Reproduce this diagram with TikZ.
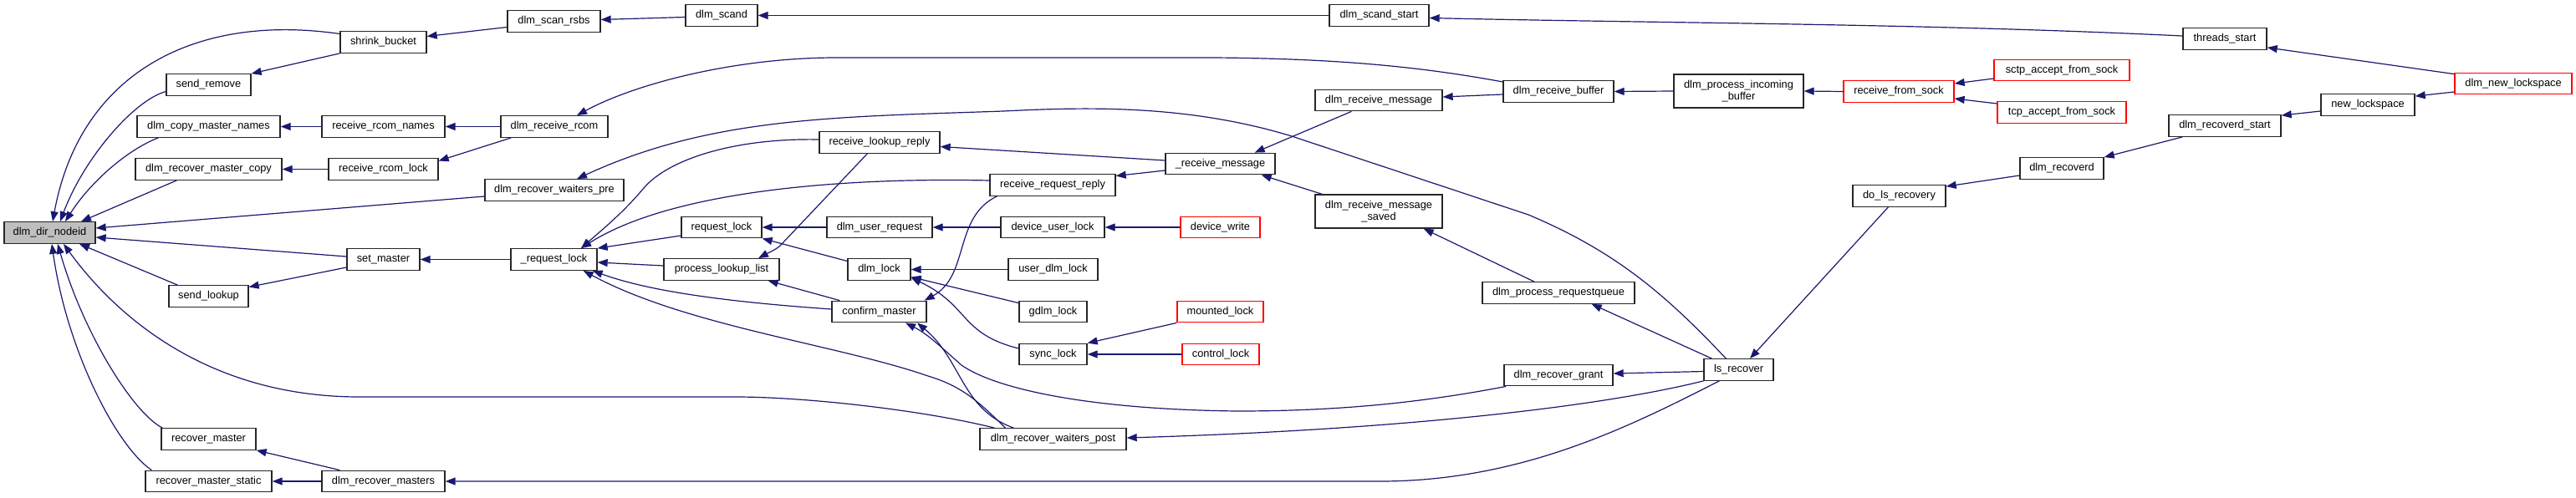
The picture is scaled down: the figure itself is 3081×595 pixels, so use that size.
\documentclass[tikz,border=0pt]{standalone}
\usepackage{fontspec}
\setmainfont{Liberation Sans}
\usetikzlibrary{arrows.meta,calc}
\definecolor{navy}{HTML}{191970}
\definecolor{rootgray}{HTML}{BFBFBF}
\begin{document}
\begin{tikzpicture}[x=1pt,y=-1pt,
  box/.style={draw=black!85, line width=1.3pt, fill=white, minimum height=25.5pt, inner sep=0pt, align=center, font=\fontsize{12.8}{14.5}\selectfont, text=black},
  redbox/.style={box, draw=red},
  conn/.style={draw=navy, line width=1.2pt, -{Triangle[length=12pt,width=9pt]}}]
\useasboundingbox (0,0) rectangle (3081,595);
% nodes
\node[box,fill=rootgray,minimum width=109pt] (root) at (59.5,278.5) {dlm\_dir\_nodeid};
\node[box,minimum width=103pt] (shrink) at (458.5,50.5) {shrink\_bucket};
\node[box,minimum width=101pt] (sremove) at (249.5,101.5) {send\_remove};
\node[box,minimum width=171pt] (copynames) at (249.5,151.5) {dlm\_copy\_master\_names};
\node[box,minimum width=147pt] (rcnames) at (458.5,151.5) {receive\_rcom\_names};
\node[box,minimum width=175pt] (rmcopy) at (249.5,202.5) {dlm\_recover\_master\_copy};
\node[box,minimum width=131pt] (rclock) at (458.5,202.5) {receive\_rcom\_lock};
\node[box,minimum width=87pt] (setm) at (458.5,310.5) {set\_master};
\node[box,minimum width=95pt] (slookup) at (249.5,354.5) {send\_lookup};
\node[box,minimum width=113pt] (rmaster) at (249.5,525.5) {recover\_master};
\node[box,minimum width=151pt] (rmstatic) at (249.5,576) {recover\_master\_static};
\node[box,minimum width=147pt] (rmasters) at (458.5,576) {dlm\_recover\_masters};
\node[box,minimum width=111pt] (scanrsbs) at (662.5,25.5) {dlm\_scan\_rsbs};
\node[box,minimum width=86pt] (scand) at (863,18.5) {dlm\_scand};
\node[box,minimum width=128pt] (rcvrcom) at (663,151.5) {dlm\_receive\_rcom};
\node[box,minimum width=166pt] (wpre) at (663,227.5) {dlm\_recover\_waiters\_pre};
\node[box,minimum width=144pt] (rlreply) at (1052,170.5) {receive\_lookup\_reply};
\node[box,minimum width=96pt] (reqlock) at (863,272) {request\_lock};
\node[box,minimum width=126pt] (userreq) at (1052,272) {dlm\_user\_request};
\node[box,minimum width=103pt] (reql) at (662.5,310.5) {\_request\_lock};
\node[box,minimum width=138pt] (plist) at (863,322.5) {process\_lookup\_list};
\node[box,minimum width=75pt] (dlmlock) at (1051.5,322.5) {dlm\_lock};
\node[box,minimum width=113pt] (confirm) at (1051.5,373) {confirm\_master};
\node[box,minimum width=131pt] (rmsg) at (1459.5,196) {\_receive\_message};
\node[box,minimum width=150pt] (rrreply) at (1259,221.5) {receive\_request\_reply};
\node[box,minimum width=124pt] (dulock) at (1259,272) {device\_user\_lock};
\node[redbox,minimum width=95pt] (dwrite) at (1459.5,272) {device\_write};
\node[box,minimum width=107pt] (udlock) at (1259.5,322.5) {user\_dlm\_lock};
\node[box,minimum width=81pt] (gdlock) at (1259.5,373) {gdlm\_lock};
\node[box,minimum width=81pt] (synclock) at (1259.5,424) {sync\_lock};
\node[redbox,minimum width=103pt] (mlock) at (1459.5,373) {mounted\_lock};
\node[redbox,minimum width=92pt] (clock) at (1460,424) {control\_lock};
\node[box,minimum width=175pt] (wpost) at (1259.5,525.5) {dlm\_recover\_waiters\_post};
\node[box,minimum width=119pt] (scandstart) at (1649.5,18.5) {dlm\_scand\_start};
\node[box,minimum width=132pt] (rbuf) at (1864,109.5) {dlm\_receive\_buffer};
\node[box,minimum width=152pt] (rcvmsg) at (1649,120) {dlm\_receive\_message};
\node[box,minimum width=152pt,minimum height=40pt] (rcvsaved) at (1649,253) {dlm\_receive\_message\\\_saved};
\node[box,minimum width=155pt,minimum height=40pt] (pinbuf) at (2079.5,109) {dlm\_process\_incoming\\\_buffer};
\node[box,minimum width=182pt] (preq) at (1864,350.5) {dlm\_process\_requestqueue};
\node[box,minimum width=130pt] (rgrant) at (1864,449) {dlm\_recover\_grant};
\node[box,minimum width=83pt] (lsrec) at (2079.5,442.5) {ls\_recover};
\node[redbox,minimum width=132pt] (rfsock) at (2271,109.5) {receive\_from\_sock};
\node[redbox,minimum width=162pt] (sctp) at (2466,84) {sctp\_accept\_from\_sock};
\node[redbox,minimum width=154pt] (tcp) at (2466,134.5) {tcp\_accept\_from\_sock};
\node[box,minimum width=100pt] (recoverd) at (2466,201.5) {dlm\_recoverd};
\node[box,minimum width=111pt] (dolsrec) at (2271.5,234.5) {do\_ls\_recovery};
\node[box,minimum width=100pt] (threads) at (2661,46.5) {threads\_start};
\node[redbox,minimum width=140pt] (newls) at (3006,100) {dlm\_new\_lockspace};
\node[box,minimum width=112pt] (newlsp) at (2832,125.5) {new\_lockspace};
\node[box,minimum width=134pt] (rdstart) at (2661,150.5) {dlm\_recoverd\_start};
% edges into root
\draw[conn] ($(shrink.west)+(0,-10)$) .. controls (230,15) and (95,90) .. ($(root.north)+(3.5,0)$);
\draw[conn] ($(sremove.west)+(0,8)$) .. controls (160,120) and (100,190) .. ($(root.north)+(12.5,0)$);
\draw[conn] ($(copynames.south west)+(26,0)$) .. controls (155,178) and (110,215) .. ($(root.north)+(18.5,0)$);
\draw[conn] ($(rmcopy.south west)+(50,0)$) -- ($(root.north)+(37.5,0)$);
\draw[conn] ($(wpre.west)+(0,7.5)$) -- ($(root.east)+(0,-5.5)$);
\draw[conn] ($(setm.west)+(0,-3.5)$) -- ($(root.east)+(0,5.5)$);
\draw[conn] ($(slookup.north west)+(11,0)$) -- ($(root.south)+(35.5,0)$);
\draw[conn] ($(wpost.north west)+(18,0)$) .. controls (1100,490) and (960,475) .. (880,475) -- (430,475) .. controls (250,475) and (140,380) .. ($(root.south)+(16.5,0)$);
\draw[conn] ($(rmaster.north west)+(2,0)$) .. controls (160,495) and (100,400) .. ($(root.south)+(9.5,0)$);
\draw[conn] ($(rmstatic.north west)+(8,0)$) .. controls (140,535) and (80,420) .. ($(root.south)+(2.5,0)$);
% second level
\draw[conn] (shrink.south west) -- (sremove.north east);
\draw[conn] ($(scanrsbs.west)+(0,7)$) -- ($(shrink.east)+(0,-7)$);
\draw[conn] ($(scand.west)+(0,2)$) -- ($(scanrsbs.east)+(0,-2)$);
\draw[conn] (scandstart.west) -- (scand.east);
\draw[conn] ($(threads.west)+(0,-3.5)$) .. controls (2300,28) and (2000,28) .. ($(scandstart.east)+(0,3)$);
\draw[conn] ($(newls.north west)+(0,2)$) -- ($(threads.south east)+(0,-3)$);
\draw[conn] (rcnames.west) -- (copynames.east);
\draw[conn] (rcvrcom.west) -- (rcnames.east);
\draw[conn] (rclock.west) -- (rmcopy.east);
\draw[conn] ($(rcvrcom.south west)+(13,0)$) -- ($(rclock.east)+(0,-10)$);
\draw[conn] ($(rbuf.west)+(0,-11.5)$) .. controls (1700,80) and (1600,70) .. (1450,69) -- (1000,69) .. controls (880,69) and (760,100) .. ($(rcvrcom.north)+(27,0)$);
\draw[conn] (pinbuf.west) -- (rbuf.east);
\draw[conn] (rfsock.west) -- (pinbuf.east);
\draw[conn] ($(sctp.west)+(0,10)$) -- ($(rfsock.east)+(0,-9.5)$);
\draw[conn] ($(tcp.west)+(0,-10.5)$) -- ($(rfsock.east)+(0,8.5)$);
\draw[conn] ($(lsrec.north west)+(27,0)$) .. controls (1990,350) and (1930,300) .. (1828,257) -- (1545,163) .. controls (1420,125) and (1300,128) .. (1200,133) .. controls (1000,140) and (850,140) .. ($(wpre.north)+(27,0)$);
\draw[conn] ($(setm.west)+(0,9.5)$) -- ($(slookup.east)+(0,-11)$);
\draw[conn] (reql.west) -- (setm.east);
\draw[conn] ($(reqlock.west)+(0,10)$) -- (reql.north east);
\draw[conn] ($(plist.west)+(0,-4.5)$) -- ($(reql.east)+(0,3.5)$);
\draw[conn] ($(confirm.west)+(0,-3)$) .. controls (880,362) and (780,350) .. ($(reql.south east)+(-6,0)$);
\draw[conn] ($(wpost.north west)+(31,0)$) .. controls (1170,480) and (1150,462) .. (1110,450) .. controls (1000,412) and (820,390) .. ($(reql.south east)+(-17,0)$);
\draw[conn] ($(rlreply.west)+(0,-3.5)$) .. controls (880,165) and (800,190) .. (770,225) .. controls (745,255) and (720,275) .. ($(reql.north)+(32.5,0)$);
\draw[conn] ($(rrreply.west)+(0,-5.5)$) .. controls (1000,212) and (800,230) .. ($(reql.north)+(32.5,0)$);
\draw[conn] (userreq.west) -- (reqlock.east);
\draw[conn] ($(dlmlock.west)+(0,-10)$) -- (reqlock.south east);
\draw[conn] ($(rlreply.south west)+(58,0)$) -- (935,292) .. controls (930,298) and (920,302) .. ($(plist.north)+(44,0)$);
\draw[conn] ($(confirm.north west)+(10,0)$) -- ($(plist.south east)+(-14,0)$);
\draw[conn] ($(rrreply.south west)+(9,0)$) .. controls (1140,260) and (1160,330) .. ($(confirm.north east)+(-3,0)$);
\draw[conn] ($(rgrant.south west)+(3,0)$) .. controls (1700,482) and (1600,492) .. (1480,492) .. controls (1300,490) and (1190,465) .. (1150,437) .. controls (1125,415) and (1110,400) .. ($(confirm.south)+(31.5,0)$);
\draw[conn] ($(wpost.north west)+(41,0)$) .. controls (1150,490) and (1150,430) .. ($(confirm.south)+(45.5,0)$);
\draw[conn] (dulock.west) -- (userreq.east);
\draw[conn] (dwrite.west) -- (dulock.east);
\draw[conn] (udlock.west) -- (dlmlock.east);
\draw[conn] ($(gdlock.north west)+(0,3)$) -- ($(dlmlock.east)+(0,9)$);
\draw[conn] ($(synclock.west)+(0,-7)$) .. controls (1170,405) and (1160,385) .. (1140,365) .. controls (1125,350) and (1110,342) .. ($(dlmlock.east)+(0,10)$);
\draw[conn] (mlock.south west) -- (synclock.north east);
\draw[conn] (clock.west) -- (synclock.east);
\draw[conn] ($(rmsg.west)+(0,-4)$) -- ($(rlreply.east)+(0,5)$);
\draw[conn] ($(rmsg.west)+(0,8)$) -- ($(rrreply.east)+(0,-11)$);
\draw[conn] ($(rcvmsg.south west)+(44,0)$) -- ($(rmsg.north east)+(-25,0)$);
\draw[conn] ($(rcvsaved.north west)+(9,0)$) -- ($(rmsg.south east)+(-17,0)$);
\draw[conn] ($(rbuf.west)+(0,3.5)$) -- ($(rcvmsg.east)+(0,-4)$);
\draw[conn] ($(preq.north)+(-29,0)$) -- ($(rcvsaved.south east)+(-23,0)$);
\draw[conn] ($(lsrec.north west)+(10,0)$) -- ($(preq.south east)+(-52,0)$);
\draw[conn] ($(lsrec.west)+(0,2)$) -- ($(rgrant.east)+(0,-2)$);
\draw[conn] (lsrec.south west) .. controls (1900,490) and (1650,515) .. ($(wpost.east)+(0,-1.5)$);
\draw[conn] ($(lsrec.south west)+(19,0)$) .. controls (1950,510) and (1820,576) .. (1650,576) -- (rmasters.east);
\draw[conn] ($(dolsrec.south west)+(43,0)$) -- ($(lsrec.north)+(13.5,0)$);
\draw[conn] ($(recoverd.west)+(0,8.5)$) -- ($(dolsrec.north east)+(0,2)$);
\draw[conn] ($(rdstart.south west)+(17,0)$) -- (recoverd.north east);
\draw[conn] ($(newlsp.west)+(0,7.5)$) -- ($(rdstart.north east)+(0,1)$);
\draw[conn] ($(newls.west)+(0,10)$) -- ($(newlsp.north east)+(0,3)$);
\draw[conn] ($(rmasters.north west)+(22,0)$) -- (rmaster.south east);
\draw[conn] (rmasters.west) -- (rmstatic.east);
\end{tikzpicture}
\end{document}
